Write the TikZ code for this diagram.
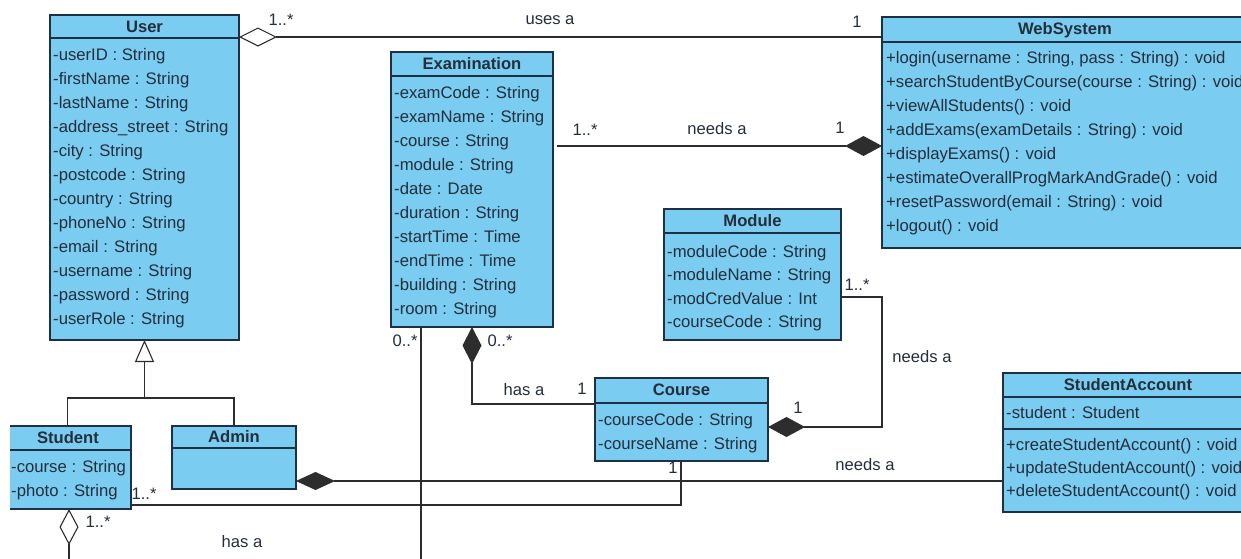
\documentclass[tikz,border=0pt]{standalone}
\usepackage{fontspec}
\setmainfont{Liberation Sans}
\usetikzlibrary{arrows.meta,calc}

\definecolor{clsfill}{RGB}{122,204,240}
\definecolor{clsline}{RGB}{30,48,70}
\definecolor{clstext}{RGB}{36,46,60}
\definecolor{wirecol}{RGB}{45,45,45}

\tikzset{
  cls/.style={draw=clsline, line width=1.2pt, fill=clsfill, inner sep=0pt, outer sep=0pt, anchor=north west},
  sep/.style={draw=clsline, line width=1.2pt},
  txt/.style={inner sep=0pt, text=clstext, text height=1.0em, text depth=0em},
  ttl/.style={txt, font=\fontsize{16.6}{18}\selectfont\bfseries},
  mem/.style={txt, font=\fontsize{16.7}{18}\selectfont, anchor=west},
  lbl/.style={txt, font=\fontsize{16.6}{18}\selectfont},
  wire/.style={draw=wirecol, line width=1.1pt},
}

\begin{document}
\begin{tikzpicture}[x=1pt, y=-1pt]
\clip (0,0) rectangle (1241,558);
\fill[white] (0,0) rectangle (1241,558);

% ---------- User ----------
\node[cls, minimum width=189, minimum height=325] (user) at (50,15) {};
\draw[sep] ($(user.north west)+(0,23)$) -- ($(user.north east)+(0,23)$);
\node[ttl] (user-t) at (144.5,27) {User};
\foreach \m [count=\i] in {-userID : String, -firstName : String, -lastName : String,
  -address\_street : String, -city : String, -postcode : String, -country : String,
  -phoneNo : String, -email : String, -username : String, -password : String, -userRole : String}
  \node[mem] (user-\i) at (53,{31+24*\i}) {\m};

% ---------- Examination ----------
\node[cls, minimum width=162, minimum height=275] (exam) at (391,52) {};
\draw[sep] ($(exam.north west)+(0,24)$) -- ($(exam.north east)+(0,24)$);
\node[ttl] (exam-t) at (472,64) {Examination};
\foreach \m [count=\i] in {-examCode : String, -examName : String, -course : String,
  -module : String, -date : Date, -duration : String, -startTime : Time,
  -endTime : Time, -building : String, -room : String}
  \node[mem] (exam-\i) at (394,{69+24*\i}) {\m};

% ---------- WebSystem ----------
\node[cls, minimum width=368, minimum height=231] (webs) at (882,17) {};
\draw[sep] ($(webs.north west)+(0,25)$) -- ($(webs.north east)+(0,25)$);
\node[ttl] (webs-t) at (1065,29) {WebSystem};
\foreach \m [count=\i] in {{+login(username : String, pass : String) : void},
  +searchStudentByCourse(course : String) : void, +viewAllStudents() : void,
  +addExams(examDetails : String) : void, +displayExams() : void,
  +estimateOverallProgMarkAndGrade() : void, +resetPassword(email : String) : void,
  +logout() : void}
  \node[mem] (webs-\i) at (886,{34+24*\i}) {\m};

% ---------- Module ----------
\node[cls, minimum width=177, minimum height=131] (module) at (664,209) {};
\draw[sep] ($(module.north west)+(0,24)$) -- ($(module.north east)+(0,24)$);
\node[ttl] (module-t) at (752.5,221) {Module};
\foreach \m [count=\i] in {-moduleCode : String, -moduleName : String,
  -modCredValue : Int, -courseCode : String}
  \node[mem] (module-\i) at (667,{228.5+23.6*\i}) {\m};

% ---------- Course ----------
\node[cls, minimum width=173, minimum height=83] (course) at (595,378) {};
\draw[sep] ($(course.north west)+(0,25)$) -- ($(course.north east)+(0,25)$);
\node[ttl] (course-t) at (681.5,390) {Course};
\node[mem] (course-1) at (598,420) {-courseCode : String};
\node[mem] (course-2) at (598,444) {-courseName : String};

% ---------- Student (left side runs off the sheet) ----------
\node[cls, draw=none, minimum width=121, minimum height=83] (student) at (10,426) {};
\draw[sep] (student.north west) -- (student.north east) -- (student.south east) -- (student.south west);
\draw[sep] ($(student.north west)+(0,24)$) -- ($(student.north east)+(0,24)$);
\node[ttl] (student-t) at (68,438) {Student};
\node[mem] (student-1) at (11,467) {-course : String};
\node[mem] (student-2) at (11,491) {-photo : String};

% ---------- Admin ----------
\node[cls, minimum width=124, minimum height=63] (admin) at (172,426) {};
\draw[sep] ($(admin.north west)+(0,22)$) -- ($(admin.north east)+(0,22)$);
\node[ttl] (admin-t) at (234,437) {Admin};

% ---------- StudentAccount ----------
\node[cls, minimum width=250, minimum height=139] (acct) at (1003,373) {};
\draw[sep] ($(acct.north west)+(0,24)$) -- ($(acct.north east)+(0,24)$);
\draw[sep] ($(acct.north west)+(0,56)$) -- ($(acct.north east)+(0,56)$);
\node[ttl] (acct-t) at (1128,385) {StudentAccount};
\node[mem] (acct-1) at (1006,413) {-student : Student};
\node[mem] (acct-2) at (1006,445) {+createStudentAccount() : void};
\node[mem] (acct-3) at (1006,468) {+updateStudentAccount() : void};
\node[mem] (acct-4) at (1006,491) {+deleteStudentAccount() : void};

% ---------- Generalization ----------
\coordinate (genjoin) at ($(user.south)+(0,58)$);
\draw[wire, -{Triangle[open, length=22pt, width=19pt]}] (genjoin) -- (user.south);
\draw[wire] ($(student.north)+(-3,0)$) |- (genjoin) -| (admin.north);

% ---------- Associations ----------
% User -- WebSystem
\draw[wire, {Diamond[open, length=38pt, width=19pt]}-] ($(user.north east)+(0,22)$) -- ($(webs.north west)+(0,20)$);
\node[lbl] (uw-m1) at (281,20) {1..*};
\node[lbl] (uw-n) at (550,19) {uses a};
\node[lbl] (uw-m2) at (857,22) {1};

% Examination -- WebSystem
\draw[wire, -{Diamond[length=37pt, width=20pt]}] ($(exam.north east)+(4,94)$) -- ($(webs.north west)+(0,129)$);
\node[lbl] (ew-m1) at (585,130) {1..*};
\node[lbl] (ew-n) at (717,129) {needs a};
\node[lbl] (ew-m2) at (840,128) {1};

% Module -- Course
\draw[wire, -{Diamond[length=37pt, width=20pt]}] ($(module.north east)+(0,88)$) -- ++(41,0) |- ($(course.north east)+(0,49)$);
\node[lbl] (mc-m1) at (857,285) {1..*};
\node[lbl] (mc-n) at (922,357) {needs a};
\node[lbl] (mc-m2) at (798,408) {1};

% Examination -- Course
\draw[wire, {Diamond[length=37pt, width=19pt]}-] ($(exam.south west)+(81,0)$) |- ($(course.north west)+(0,26)$);
\node[lbl] (ec-m1) at (500,341) {0..*};
\node[lbl] (ec-n) at (524,390) {has a};
\node[lbl] (ec-m2) at (582,389) {1};

% Examination -- Student
\draw[wire, -{Diamond[open, length=36pt, width=19pt]}] ($(exam.south west)+(30,0)$) -- ++(0,245) -| ($(student.south west)+(59,0)$);
\node[lbl] (es-m1) at (405,341) {0..*};
\node[lbl] (es-m2) at (98,522) {1..*};
\node[lbl] (es-n) at (242,542) {has a};

% Admin -- StudentAccount
\draw[wire, {Diamond[length=39pt, width=18pt]}-] ($(admin.north east)+(0,55)$) -- ($(acct.north west)+(0,108)$);
\node[lbl] (aa-n) at (865,465) {needs a};

% Course -- Student
\draw[wire] ($(course.south west)+(86,0)$) |- ($(student.north east)+(0,79)$);
\node[lbl] (cs-m1) at (673,468) {1};
\node[lbl] (cs-m2) at (144,494) {1..*};
\end{tikzpicture}
\end{document}
